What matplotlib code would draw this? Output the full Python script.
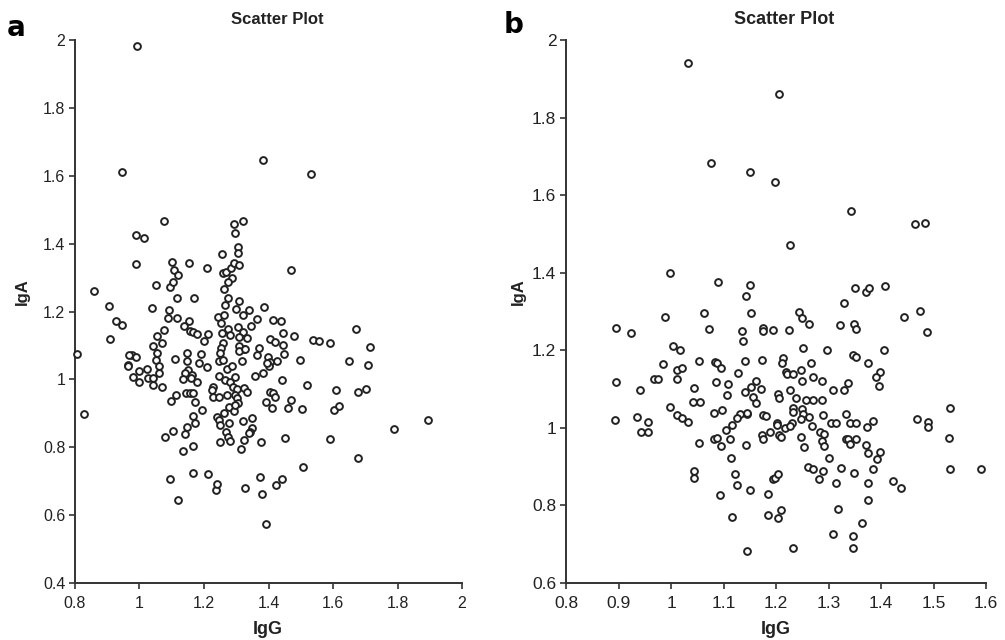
import matplotlib
matplotlib.use("Agg")
import matplotlib.pyplot as plt
from matplotlib.ticker import FuncFormatter, MultipleLocator

# panel a: IgG / IgA
a_igg = [
    0.991, 0.946, 1.384, 1.532, 1.077, 1.292, 1.320, 1.295, 0.989, 1.014,
    0.990, 1.101, 1.106, 1.118, 1.154, 1.210, 1.257, 1.259, 1.267, 1.283,
    1.294, 1.287, 1.305, 1.304, 1.308, 1.471,
    0.859, 0.906, 0.927, 0.945, 0.909, 0.806, 0.977, 0.967, 0.988, 0.963,
    0.965, 0.979, 0.997, 0.999, 1.022, 1.026, 0.828,
    1.052, 1.095, 1.103, 1.262, 1.273, 1.116, 1.170, 1.273, 1.265, 1.310,
    1.339, 1.300, 1.385, 1.038, 1.090, 1.088, 1.116, 1.243, 1.262, 1.253,
    1.322, 1.364, 1.415, 1.155, 1.138, 1.157, 1.167, 1.178, 1.211, 1.199,
    1.076, 1.054, 1.069, 1.041, 1.274, 1.255, 1.281, 1.305, 1.320, 1.347,
    1.310, 1.333, 1.324, 1.405, 1.420, 1.258, 1.253, 1.250, 1.248, 1.260,
    1.307, 1.310, 1.328, 1.369, 1.364, 1.400, 1.405, 1.426, 1.054, 1.052,
    1.059, 1.062, 1.041, 1.043, 1.069, 1.148, 1.146, 1.110, 1.190, 1.186,
    1.151, 1.141, 1.162, 1.134, 1.159, 1.177, 1.210, 1.248, 1.270, 1.286,
    1.296, 1.317, 1.265, 1.281, 1.291, 1.301, 1.324, 1.332, 1.358, 1.384,
    1.403, 1.394, 1.227, 1.224, 1.229, 1.248, 1.270, 1.296, 1.303, 1.306,
    1.144, 1.156, 1.165, 1.172, 1.113, 1.097, 1.405, 1.415, 1.392, 1.410,
    1.420, 1.193, 1.167, 1.172, 1.148, 1.141, 1.105, 1.078, 1.136, 1.167,
    1.239, 1.245, 1.250, 1.278, 1.262, 1.278, 1.293, 1.296, 1.268, 1.275,
    1.281, 1.250, 1.320, 1.348, 1.348, 1.343, 1.338, 1.314, 1.324, 1.376,
    1.167, 1.213, 1.095, 1.373,
    1.439, 1.444, 1.480, 1.446, 1.539, 1.557, 1.590, 1.670, 1.715, 1.449,
    1.497, 1.650, 1.709, 1.441, 1.520, 1.608, 1.679, 1.703, 1.469, 1.461,
    1.505, 1.603, 1.619, 1.789, 1.896, 1.452, 1.590, 1.679, 1.506, 1.441,
    1.120, 1.236, 1.241, 1.328, 1.380, 1.392, 1.422,
]
a_iga = [
    1.983, 1.612, 1.646, 1.605, 1.467, 1.457, 1.467, 1.430, 1.425, 1.416,
    1.339, 1.345, 1.322, 1.308, 1.344, 1.329, 1.369, 1.313, 1.317, 1.329,
    1.342, 1.298, 1.391, 1.373, 1.337, 1.321,
    1.261, 1.217, 1.173, 1.159, 1.119, 1.074, 1.073, 1.071, 1.066, 1.043,
    1.039, 1.007, 0.991, 1.026, 1.032, 1.003, 0.898,
    1.278, 1.273, 1.288, 1.266, 1.288, 1.239, 1.239, 1.239, 1.219, 1.232,
    1.203, 1.207, 1.214, 1.211, 1.203, 1.182, 1.182, 1.185, 1.191, 1.165,
    1.190, 1.178, 1.175, 1.173, 1.158, 1.144, 1.141, 1.134, 1.134, 1.113,
    1.146, 1.129, 1.108, 1.099, 1.148, 1.136, 1.131, 1.153, 1.141, 1.156,
    1.124, 1.121, 1.089, 1.118, 1.109, 1.106, 1.092, 1.077, 1.054, 1.057,
    1.099, 1.085, 1.089, 1.092, 1.072, 1.067, 1.052, 1.055, 1.079, 1.057,
    1.038, 1.020, 1.003, 0.984, 0.979, 1.079, 1.054, 1.059, 1.075, 1.049,
    1.027, 1.018, 1.013, 1.000, 1.005, 0.993, 1.036, 1.011, 1.030, 1.040,
    1.008, 1.054, 0.998, 0.993, 0.979, 0.972, 0.974, 0.964, 1.010, 1.018,
    1.038, 1.049, 0.979, 0.969, 0.949, 0.949, 0.954, 0.954, 0.944, 0.929,
    0.959, 0.961, 0.961, 0.934, 0.954, 0.937, 0.964, 0.959, 0.932, 0.915,
    0.949, 0.910, 0.892, 0.871, 0.861, 0.839, 0.849, 0.829, 0.789, 0.805,
    0.890, 0.881, 0.866, 0.871, 0.900, 0.920, 0.907, 0.925, 0.846, 0.831,
    0.817, 0.815, 0.878, 0.887, 0.856, 0.846, 0.841, 0.794, 0.822, 0.816,
    0.723, 0.721, 0.707, 0.711,
    1.173, 1.138, 1.127, 1.102, 1.115, 1.113, 1.106, 1.149, 1.096, 1.075,
    1.056, 1.054, 1.041, 0.998, 0.983, 0.968, 0.964, 0.971, 0.940, 0.917,
    0.913, 0.909, 0.923, 0.854, 0.881, 0.826, 0.824, 0.767, 0.741, 0.706,
    0.646, 0.673, 0.691, 0.679, 0.661, 0.573, 0.688,
]

# panel b
b_igg = [
    1.032, 1.077, 1.150, 0.998, 1.090, 1.150, 1.142,
    1.206, 1.199, 1.342, 1.226, 1.464, 1.484, 1.350, 1.371, 1.378, 1.407, 1.329,
    0.895, 0.923, 0.988, 1.062, 1.072, 1.153, 1.135, 1.138, 1.004, 1.017,
    0.984, 1.053, 1.084, 1.087, 1.095, 1.141, 1.128, 1.012, 1.020, 0.895,
    0.968, 0.975, 1.011, 1.085, 1.108, 1.161, 1.152, 1.044, 0.940, 1.141,
    1.106, 1.157, 1.161, 1.041, 1.056, 0.999, 0.893, 0.935, 0.956, 1.011,
    1.020, 1.032, 1.081, 1.098, 1.131, 1.144, 1.145, 1.126, 1.116, 1.105,
    0.943, 0.956, 1.053, 1.082, 1.087, 1.095, 1.112, 1.143, 1.115, 1.044,
    1.044, 1.121, 1.126, 1.150, 1.093, 1.116, 1.145,
    1.175, 1.175, 1.195, 1.225, 1.243, 1.249, 1.263, 1.321, 1.349, 1.352,
    1.443, 1.474, 1.488, 1.173, 1.214, 1.211, 1.252, 1.297, 1.267, 1.219,
    1.220, 1.233, 1.248, 1.249, 1.271, 1.287, 1.346, 1.352, 1.375, 1.406,
    1.399, 1.391, 1.337, 1.396, 1.309, 1.330, 1.171, 1.203, 1.206, 1.227,
    1.238, 1.258, 1.270, 1.288, 1.233, 1.233, 1.249, 1.252, 1.262, 1.247,
    1.290, 1.333, 1.175, 1.181, 1.201, 1.202, 1.217, 1.231, 1.227, 1.269,
    1.304, 1.314, 1.340, 1.352, 1.373, 1.384, 1.189, 1.173, 1.175, 1.206,
    1.209, 1.284, 1.291, 1.248, 1.333, 1.338, 1.352, 1.288, 1.291, 1.254,
    1.341, 1.371, 1.376, 1.398, 1.393, 1.300, 1.260, 1.270, 1.289, 1.323,
    1.384, 1.281, 1.349, 1.194, 1.198, 1.203, 1.314, 1.376, 1.422, 1.438,
    1.184, 1.375, 1.184, 1.203, 1.210, 1.319, 1.363, 1.309, 1.346, 1.346,
    1.233, 1.468, 1.490, 1.490, 1.531, 1.530, 1.531, 1.590,
]
b_iga = [
    1.940, 1.682, 1.659, 1.398, 1.375, 1.368, 1.341,
    1.860, 1.635, 1.559, 1.471, 1.526, 1.528, 1.360, 1.350, 1.360, 1.365, 1.323,
    1.258, 1.245, 1.285, 1.295, 1.255, 1.295, 1.249, 1.225, 1.212, 1.200,
    1.165, 1.172, 1.170, 1.166, 1.155, 1.172, 1.141, 1.149, 1.155, 1.119,
    1.125, 1.125, 1.125, 1.119, 1.114, 1.120, 1.106, 1.104, 1.097, 1.092,
    1.086, 1.080, 1.064, 1.067, 1.067, 1.054, 1.020, 1.028, 1.014, 1.032,
    1.026, 1.014, 1.038, 1.045, 1.037, 1.037, 1.039, 1.026, 1.008, 0.995,
    0.989, 0.989, 0.962, 0.972, 0.975, 0.953, 0.972, 0.956, 0.923, 0.889,
    0.872, 0.882, 0.853, 0.841, 0.827, 0.769, 0.683,
    1.258, 1.249, 1.252, 1.252, 1.298, 1.284, 1.267, 1.265, 1.267, 1.255,
    1.286, 1.301, 1.248, 1.174, 1.181, 1.166, 1.207, 1.201, 1.168, 1.144,
    1.140, 1.140, 1.149, 1.121, 1.131, 1.121, 1.189, 1.183, 1.168, 1.201,
    1.145, 1.131, 1.116, 1.108, 1.097, 1.097, 1.101, 1.088, 1.078, 1.097,
    1.078, 1.072, 1.072, 1.072, 1.052, 1.042, 1.048, 1.037, 1.029, 1.022,
    1.032, 1.037, 1.033, 1.031, 1.013, 1.007, 0.999, 1.013, 1.005, 1.005,
    1.013, 1.013, 1.013, 1.013, 1.002, 1.018, 0.989, 0.981, 0.972, 0.981,
    0.977, 0.989, 0.983, 0.977, 0.972, 0.972, 0.972, 0.966, 0.952, 0.951,
    0.959, 0.956, 0.936, 0.938, 0.919, 0.921, 0.899, 0.893, 0.889, 0.896,
    0.893, 0.869, 0.883, 0.868, 0.870, 0.881, 0.857, 0.857, 0.863, 0.845,
    0.829, 0.813, 0.776, 0.768, 0.787, 0.791, 0.754, 0.726, 0.722, 0.691,
    0.691, 1.024, 1.014, 1.002, 1.050, 0.975, 0.895, 0.895,
]

NARROW = ["Liberation Sans Narrow", "Liberation Sans", "DejaVu Sans"]
INK = "#222222"

fig = plt.figure(figsize=(10.05, 6.4), dpi=100)
ax_a = fig.add_axes([75 / 1005, 57 / 640, 387 / 1005, 543 / 640])
ax_b = fig.add_axes([566 / 1005, 57 / 640, 420 / 1005, 543 / 640])

fmt = FuncFormatter(lambda v, _: "%g" % round(v, 2))

def style(ax, x, y, xlim, ylim, xstep, tick_size):
    ax.scatter(x, y, s=24, facecolors="white", edgecolors=INK,
               linewidths=1.4, zorder=3, clip_on=False)
    ax.set_xlim(*xlim)
    ax.set_ylim(*ylim)
    ax.xaxis.set_major_locator(MultipleLocator(xstep))
    ax.yaxis.set_major_locator(MultipleLocator(0.2))
    ax.xaxis.set_major_formatter(fmt)
    ax.yaxis.set_major_formatter(fmt)
    for s in ["top", "right"]:
        ax.spines[s].set_visible(False)
    for s in ["left", "bottom"]:
        ax.spines[s].set_color("#333333")
        ax.spines[s].set_linewidth(1.4)
    ax.tick_params(direction="out", length=4, width=1.2, color="#333333",
                   labelsize=tick_size, labelcolor=INK)
    ax.tick_params(axis="x", pad=5)
    ax.tick_params(axis="y", pad=3)
    for lab in ax.get_xticklabels() + ax.get_yticklabels():
        lab.set_family(NARROW)

style(ax_a, a_igg, a_iga, (0.8, 2.0), (0.4, 2.0), 0.2, 11.5)
style(ax_b, b_igg, b_iga, (0.8, 1.6), (0.6, 2.0), 0.1, 12.5)

# titles, axis names and panel letters
fig.text(277 / 1005, 1 - 20 / 640, "Scatter Plot", ha="center", va="center",
         fontsize=12, fontweight="bold", family=NARROW, color=INK)
fig.text(784 / 1005, 1 - 20 / 640, "Scatter Plot", ha="center", va="center",
         fontsize=13, fontweight="bold", family=NARROW, color=INK)
fig.text(268 / 1005, 1 - 630 / 640, "IgG", ha="center", va="center",
         fontsize=13, fontweight="bold", family=NARROW, color=INK)
fig.text(776 / 1005, 1 - 630 / 640, "IgG", ha="center", va="center",
         fontsize=13, fontweight="bold", family=NARROW, color=INK)
fig.text(22 / 1005, 1 - 292 / 640, "IgA", ha="center", va="center",
         rotation=90, fontsize=12, fontweight="bold", family=NARROW, color=INK)
fig.text(518 / 1005, 1 - 292 / 640, "IgA", ha="center", va="center",
         rotation=90, fontsize=12, fontweight="bold", family=NARROW, color=INK)
fig.text(16 / 1005, 1 - 28 / 640, "a", ha="center", va="center",
         fontsize=20, fontweight="bold", color="black")
fig.text(514 / 1005, 1 - 25 / 640, "b", ha="center", va="center",
         fontsize=20, fontweight="bold", color="black")

fig.savefig("out.png", dpi=100)
